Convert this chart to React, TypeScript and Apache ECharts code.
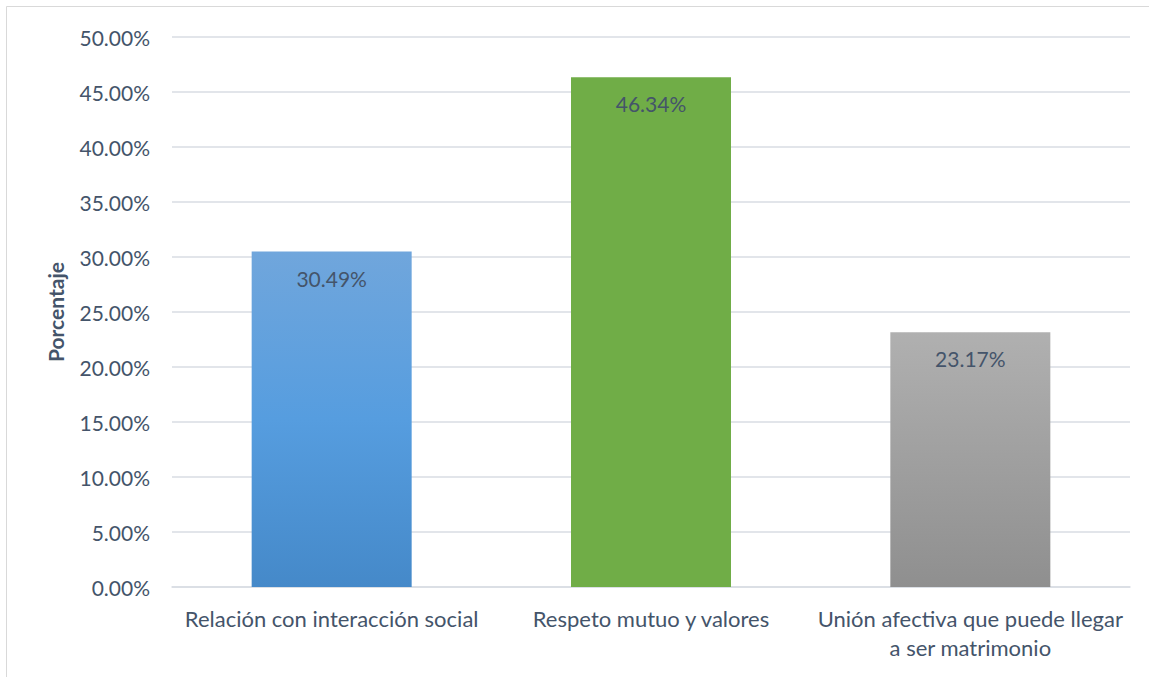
import React, { useEffect, useRef } from "react";
import * as echarts from "echarts";

const categories = [
  "Relación con interacción social",
  "Respeto mutuo y valores",
  "Unión afectiva que puede llegar\na ser matrimonio",
];
const values = [30.49, 46.34, 23.17];
const yTicks = [0, 5, 10, 15, 20, 25, 30, 35, 40, 45, 50];
const yAxisTitle = "Porcentaje";

const textColor = "#44546A";
const fontFamily = "Lato, 'Open Sans', sans-serif";

const barColors = [
  new echarts.graphic.LinearGradient(0, 0, 0, 1, [
    { offset: 0, color: "#70A6DC" },
    { offset: 0.5, color: "#569DDF" },
    { offset: 1, color: "#4589C9" },
  ]),
  "#70AD47",
  new echarts.graphic.LinearGradient(0, 0, 0, 1, [
    { offset: 0, color: "#B0B0B0" },
    { offset: 1, color: "#8F8F8F" },
  ]),
];

export default function App() {
  const ref = useRef<HTMLDivElement>(null);
  useEffect(() => {
    document.body.style.margin = "0";
    const chart = echarts.init(ref.current!, undefined, { renderer: "svg" });
    chart.setOption({
      animation: false,
      backgroundColor: "#ffffff",
      graphic: [
        {
          type: "rect",
          shape: { x: 6.5, y: 6.5, width: 1160, height: 700 },
          style: { fill: "none", stroke: "#D9D9D9", lineWidth: 1 },
          silent: true,
        },
      ],
      grid: { left: 172, right: 19, top: 37, bottom: 90 },
      xAxis: {
        type: "category",
        data: categories,
        axisLine: { show: true, lineStyle: { color: "#D9DDE3", width: 1.5 } },
        axisTick: { show: false },
        axisLabel: {
          color: textColor,
          fontFamily,
          fontSize: 22,
          lineHeight: 29,
          margin: 17,
          interval: 0,
        },
      },
      yAxis: {
        type: "value",
        min: 0,
        max: 50,
        interval: 5,
        name: yAxisTitle,
        nameLocation: "middle",
        nameGap: 106,
        nameTextStyle: {
          color: textColor,
          fontFamily,
          fontSize: 21,
          fontWeight: "bold",
        },
        axisLine: { show: false },
        axisTick: { show: false },
        splitLine: { lineStyle: { color: "#D9DDE3", width: 1.5 } },
        axisLabel: {
          color: textColor,
          fontFamily,
          fontSize: 21,
          margin: 22,
          formatter: (v: number) =>
            yTicks.includes(v) ? v.toFixed(2) + "%" : "",
        },
      },
      series: [
        {
          type: "bar",
          barWidth: 160,
          data: values.map((v, i) => ({
            value: v,
            itemStyle: { color: barColors[i] },
          })),
          label: {
            show: true,
            position: "insideTop",
            distance: 16,
            color: textColor,
            fontFamily,
            fontSize: 21,
            formatter: (p: any) => p.value.toFixed(2) + "%",
          },
        },
      ],
    });
    return () => chart.dispose();
  }, []);
  return <div ref={ref} style={{ width: 1149, height: 677 }} />;
}
